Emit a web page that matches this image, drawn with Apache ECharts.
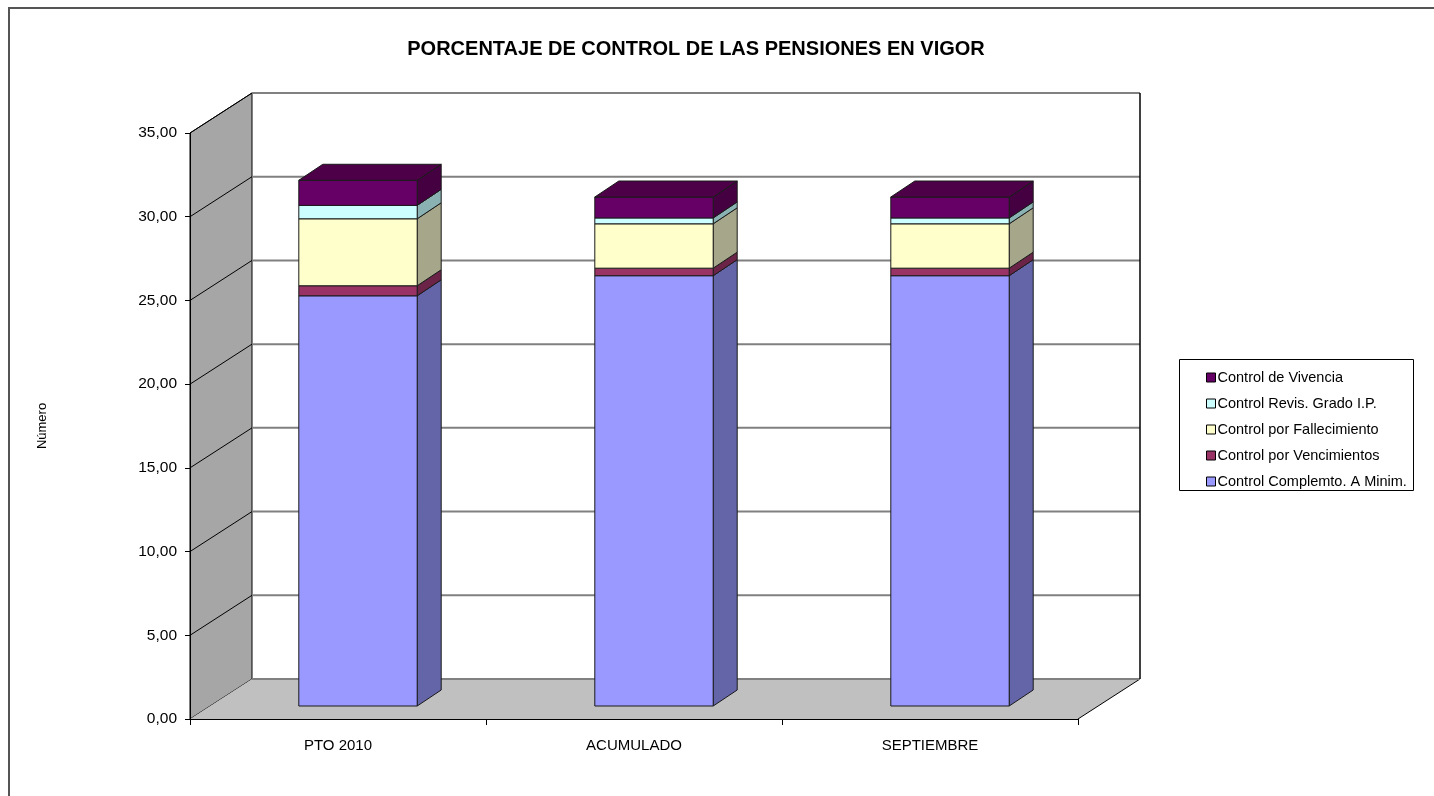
<!DOCTYPE html>
<html>
<head>
<meta charset="utf-8">
<script src="https://cdn.jsdelivr.net/npm/echarts@6/dist/echarts.min.js"></script>
<style>
html,body{margin:0;padding:0;background:#fff;}
#chart{width:1434px;height:796px;}
</style>
</head>
<body>
<div id="chart"></div>
<script>
// ---- data ----
var categories = ['PTO 2010', 'ACUMULADO', 'SEPTIEMBRE'];
var complemto = [24.5, 25.7, 25.7];
var vencimientos = [0.6, 0.45, 0.45];
var fallecimiento = [4.0, 2.65, 2.65];
var revis = [0.8, 0.35, 0.35];
var vivencia = [1.5, 1.25, 1.25];
var yTicks = [0, 5, 10, 15, 20, 25, 30, 35];
var seriesNames = ['Control Complemto. A Minim.', 'Control por Vencimientos', 'Control por Fallecimiento', 'Control Revis. Grado I.P.', 'Control de Vivencia'];

// ---- styles ----
var FONT = '"Liberation Sans", Arial, sans-serif';
var WALL_DX = 62, WALL_DY = -40;      // depth of the 3D box
var BAR_OX = 20, BAR_OY = -13;        // bar front face offset into depth
var BAR_DX = 24, BAR_DY = -16;        // bar depth
var BAR_FRAC = 0.4;
var styles = [
  {front: '#9999FF', side: '#6464A8', top: '#7A7AD0'},
  {front: '#993366', side: '#6B2447', top: '#7A2A52'},
  {front: '#FFFFCC', side: '#A6A68A', top: '#D8D8AA'},
  {front: '#CCFFFF', side: '#8AB2B2', top: '#AADDDD'},
  {front: '#660066', side: '#440040', top: '#4D0048'}
];
var layers = [complemto, vencimientos, fallecimiento, revis, vivencia];

function fmt(v) { return v.toFixed(2).replace('.', ','); }

var chart = echarts.init(document.getElementById('chart'));

function frameRender(params, api) {
  var cs = params.coordSys;
  var x0 = cs.x, x1 = cs.x + cs.width;
  var yTop = api.coord([0, yTicks[yTicks.length - 1]])[1];
  var y0 = api.coord([0, 0])[1];
  var ch = [];
  // side wall
  ch.push({type: 'polygon', shape: {points: [[x0, y0], [x0 + WALL_DX, y0 + WALL_DY], [x0 + WALL_DX, yTop + WALL_DY], [x0, yTop]]},
    style: {fill: '#A6A6A6', stroke: '#000', lineWidth: 1}});
  // floor
  ch.push({type: 'polygon', shape: {points: [[x0, y0], [x1, y0], [x1 + WALL_DX, y0 + WALL_DY], [x0 + WALL_DX, y0 + WALL_DY]]},
    style: {fill: '#C0C0C0', stroke: null}});
  ch.push({type: 'line', shape: {x1: x1, y1: y0, x2: x1 + WALL_DX, y2: y0 + WALL_DY}, style: {stroke: '#000', lineWidth: 1}});
  ch.push({type: 'line', shape: {x1: x0 + WALL_DX, y1: y0 + WALL_DY, x2: x1 + WALL_DX, y2: y0 + WALL_DY}, style: {stroke: '#808080', lineWidth: 2}});
  // back wall gridlines and side diagonals
  for (var k = 1; k < yTicks.length; k++) {
    var yy = api.coord([0, yTicks[k]])[1];
    ch.push({type: 'line', shape: {x1: x0 + WALL_DX, y1: yy + WALL_DY, x2: x1 + WALL_DX, y2: yy + WALL_DY}, style: {stroke: '#808080', lineWidth: 2}});
    ch.push({type: 'line', shape: {x1: x0, y1: yy, x2: x0 + WALL_DX, y2: yy + WALL_DY}, style: {stroke: '#000', lineWidth: 1}});
  }
  // back wall right edge
  ch.push({type: 'line', shape: {x1: x1 + WALL_DX, y1: yTop + WALL_DY, x2: x1 + WALL_DX, y2: y0 + WALL_DY}, style: {stroke: '#000', lineWidth: 1.5}});
  return {type: 'group', children: ch};
}

function makeBarRender(li) {
  var st = styles[li];
  var isTop = li === layers.length - 1;
  return function (params, api) {
    var i = api.value(0), b = api.value(1), t = api.value(2);
    var p0 = api.coord([i, b]);
    var p1 = api.coord([i, t]);
    var w = api.size([1, 0])[0] * BAR_FRAC;
    var xL = p0[0] - w / 2 + BAR_OX, xR = xL + w;
    var yB = p0[1] + BAR_OY, yT = p1[1] + BAR_OY;
    var line = {stroke: '#1a1a1a', lineWidth: 1};
    var ch = [];
    ch.push({type: 'polygon', shape: {points: [[xR, yB], [xR + BAR_DX, yB + BAR_DY], [xR + BAR_DX, yT + BAR_DY], [xR, yT]]},
      style: Object.assign({fill: st.side}, line)});
    ch.push({type: 'rect', shape: {x: xL, y: yT, width: w, height: yB - yT},
      style: Object.assign({fill: st.front}, line)});
    if (isTop) {
      ch.push({type: 'polygon', shape: {points: [[xL, yT], [xR, yT], [xR + BAR_DX, yT + BAR_DY], [xL + BAR_DX, yT + BAR_DY]]},
        style: Object.assign({fill: st.top}, line)});
    }
    return {type: 'group', children: ch};
  };
}

var series = [{
  type: 'custom',
  name: '__frame',
  silent: true,
  clip: false,
  z: 1,
  renderItem: frameRender,
  data: [[0, 0]],
  encode: {x: 0, y: 1}
}];

var cum = categories.map(function () { return 0; });
layers.forEach(function (arr, li) {
  var data = arr.map(function (v, i) {
    var b = cum[i];
    cum[i] += v;
    return [i, b, cum[i], v];
  });
  series.push({
    type: 'custom',
    name: seriesNames[li],
    clip: false,
    z: 3,
    itemStyle: {color: styles[li].front},
    renderItem: makeBarRender(li),
    encode: {x: 0, y: [1, 2]},
    data: data
  });
});

var option = {
  animation: false,
  backgroundColor: '#fff',
  textStyle: {fontFamily: FONT},
  title: {
    text: 'PORCENTAJE DE CONTROL DE LAS PENSIONES EN VIGOR',
    left: 691, top: 34, textAlign: 'center',
    textStyle: {fontFamily: FONT, fontWeight: 'bold', fontSize: 20, color: '#000'}
  },
  grid: {left: 190, top: 133, width: 888, height: 586, containLabel: false},
  xAxis: {
    type: 'category',
    data: categories,
    z: 5,
    axisLine: {show: true, lineStyle: {color: '#000', width: 1}},
    axisTick: {show: true, length: 6, lineStyle: {color: '#000'}},
    axisLabel: {fontFamily: FONT, fontSize: 15, color: '#000', margin: 19},
    splitLine: {show: false}
  },
  yAxis: {
    type: 'value',
    min: 0, max: 35, interval: 5,
    z: 5,
    name: 'Número',
    nameLocation: 'middle',
    nameGap: 141,
    nameRotate: 90,
    nameTextStyle: {fontFamily: FONT, fontSize: 13, color: '#000'},
    axisLine: {show: true, lineStyle: {color: '#000', width: 1}},
    axisTick: {show: true, length: 5, lineStyle: {color: '#000'}},
    axisLabel: {fontFamily: FONT, fontSize: 15.5, color: '#000', margin: 13, formatter: fmt},
    splitLine: {show: false}
  },
  legend: {
    orient: 'vertical',
    left: 1201, top: 365,
    itemWidth: 9, itemHeight: 9, itemGap: 11,
    icon: 'rect',
    data: seriesNames.slice().reverse(),
    itemStyle: {borderColor: '#000', borderWidth: 1},
    textStyle: {fontFamily: FONT, fontSize: 14.5, color: '#000', lineHeight: 15, padding: [0, 0, 0, -3]}
  },
  graphic: [
    {type: 'rect', left: 1177, top: 357, shape: {width: 234, height: 131}, style: {fill: null, stroke: '#000', lineWidth: 1}, z: 0},
    {type: 'line', shape: {x1: 8, y1: 8, x2: 1434, y2: 8}, style: {stroke: '#555', lineWidth: 2}},
    {type: 'line', shape: {x1: 9, y1: 7, x2: 9, y2: 796}, style: {stroke: '#555', lineWidth: 2}}
  ],
  series: series
};
chart.setOption(option);
</script>
</body>
</html>
